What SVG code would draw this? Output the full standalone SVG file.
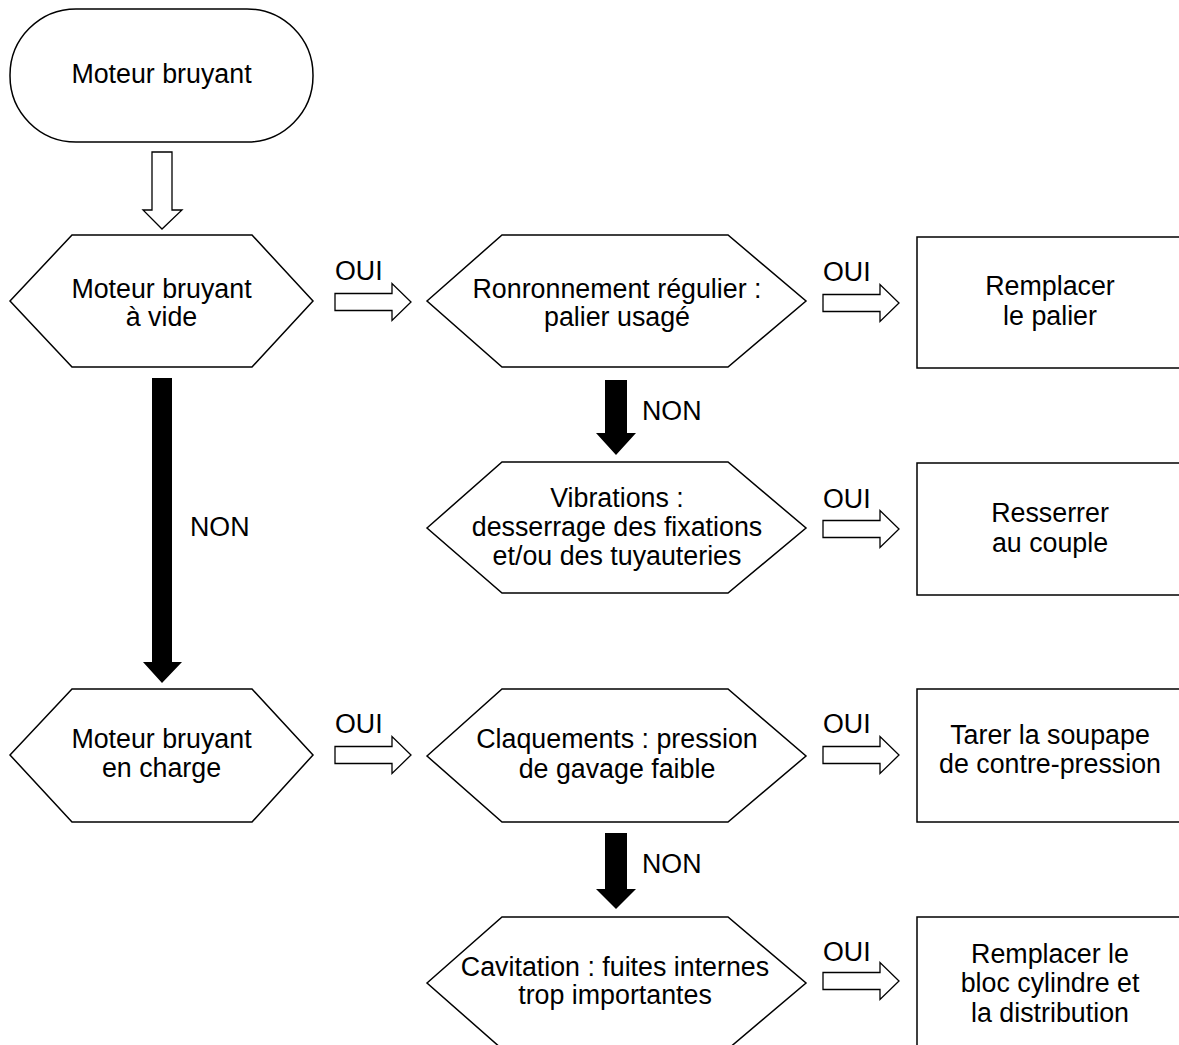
<svg xmlns="http://www.w3.org/2000/svg" xmlns:xlink="http://www.w3.org/1999/xlink" width="1179" height="1045" viewBox="0 0 1179 1045">
<style>
.shape{fill:#fff;stroke:#000;stroke-width:1.5;stroke-linejoin:miter}
.hollow{fill:#fff;stroke:#000;stroke-width:1.3}
.solid{fill:#000;stroke:none}
text{font-family:"Liberation Sans",Arial,sans-serif;font-size:26.8px;fill:#000}
.c{text-anchor:middle}
</style>
<defs>
<path id="rarrow" d="M0,-8.5 H57 V-18.5 L76,0 L57,18.5 V8.5 H0 Z"/>
</defs>
<rect width="1179" height="1045" fill="#fff"/>

<g id="connectors">
<path class="hollow" d="M152,152 H172 V210 H182 L162,229 L143,210 H152 Z"/>
<path class="solid" d="M152,378 H172 V662 H182 L162,683 L143,662 H152 Z"/>
<text x="190" y="536">NON</text>
<path class="solid" d="M605,380 H627 V433 H636 L616,455 L596,433 H605 Z"/>
<text x="642" y="420">NON</text>
<path class="solid" d="M605,833 H627 V889 H636 L616,909 L596,889 H605 Z"/>
<text x="642" y="873">NON</text>
<use href="#rarrow" xlink:href="#rarrow" class="hollow" transform="translate(335,302)"/>
<text x="335" y="280">OUI</text>
<use href="#rarrow" xlink:href="#rarrow" class="hollow" transform="translate(823,303)"/>
<text x="823" y="281">OUI</text>
<use href="#rarrow" xlink:href="#rarrow" class="hollow" transform="translate(823,529)"/>
<text x="823" y="508">OUI</text>
<use href="#rarrow" xlink:href="#rarrow" class="hollow" transform="translate(335,755)"/>
<text x="335" y="733">OUI</text>
<use href="#rarrow" xlink:href="#rarrow" class="hollow" transform="translate(823,755)"/>
<text x="823" y="733">OUI</text>
<use href="#rarrow" xlink:href="#rarrow" class="hollow" transform="translate(823,981)"/>
<text x="823" y="961">OUI</text>
</g>

<g id="start">
<rect class="shape" x="10" y="9" width="303" height="133" rx="66" ry="66"/>
<text class="c" x="161.5" y="83">Moteur bruyant</text>
</g>

<g id="q-vide">
<polygon class="shape" points="10,301 72,235 252,235 313,301 252,367 72,367"/>
<text class="c" x="161.5" y="298">Moteur bruyant</text>
<text class="c" x="161.5" y="326">à vide</text>
</g>

<g id="q-ronron">
<polygon class="shape" points="427,301 502,235 728,235 806,301 728,367 502,367"/>
<text class="c" x="617" y="298">Ronronnement régulier :</text>
<text class="c" x="617" y="326">palier usagé</text>
</g>

<g id="a-palier">
<rect class="shape" x="917" y="237" width="270" height="131"/>
<text class="c" x="1050" y="295">Remplacer</text>
<text class="c" x="1050" y="325">le palier</text>
</g>

<g id="q-vibrations">
<polygon class="shape" points="427,528 502,462 728,462 806,528 728,593 502,593"/>
<text class="c" x="617" y="507">Vibrations :</text>
<text class="c" x="617" y="536">desserrage des fixations</text>
<text class="c" x="617" y="565">et/ou des tuyauteries</text>
</g>

<g id="a-resserrer">
<rect class="shape" x="917" y="463" width="270" height="132"/>
<text class="c" x="1050" y="522">Resserrer</text>
<text class="c" x="1050" y="552">au couple</text>
</g>

<g id="q-charge">
<polygon class="shape" points="10,755 72,689 252,689 313,755 252,822 72,822"/>
<text class="c" x="161.5" y="748">Moteur bruyant</text>
<text class="c" x="161.5" y="777">en charge</text>
</g>

<g id="q-claquements">
<polygon class="shape" points="427,756 502,689 728,689 806,756 728,822 502,822"/>
<text class="c" x="617" y="748">Claquements : pression</text>
<text class="c" x="617" y="778">de gavage faible</text>
</g>

<g id="a-tarer">
<rect class="shape" x="917" y="689" width="270" height="133"/>
<text class="c" x="1050" y="744">Tarer la soupape</text>
<text class="c" x="1050" y="773">de contre-pression</text>
</g>

<g id="q-cavitation">
<polygon class="shape" points="427,983 502,917 728,917 806,983 728,1049 502,1049"/>
<text class="c" x="615" y="976">Cavitation : fuites internes</text>
<text class="c" x="615" y="1004">trop importantes</text>
</g>

<g id="a-bloc">
<rect class="shape" x="917" y="917" width="270" height="140"/>
<text class="c" x="1050" y="963">Remplacer le</text>
<text class="c" x="1050" y="992">bloc cylindre et</text>
<text class="c" x="1050" y="1022">la distribution</text>
</g>
</svg>
